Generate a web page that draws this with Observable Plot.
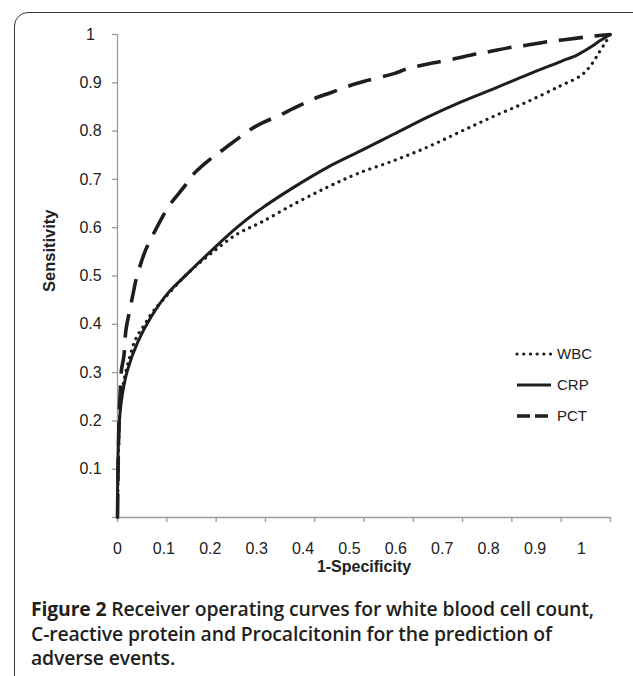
<!DOCTYPE html>
<html>
<head>
<meta charset="utf-8">
<script src="https://cdn.jsdelivr.net/npm/d3@7"></script>
<script src="https://cdn.jsdelivr.net/npm/@observablehq/plot@0.6"></script>
<style>
  html, body { margin: 0; padding: 0; background: #fff; }
  body { width: 633px; height: 676px; overflow: hidden; position: relative; font-family: "Liberation Sans", Arial, sans-serif; }
  #frame { position: absolute; left: 14px; top: 12px; width: 660px; height: 680px; border: 1.5px solid #3a3a3a; border-radius: 14px; box-sizing: border-box; }
  #chart { position: absolute; left: 0; top: 0; }
  #legend { position: absolute; left: 515px; top: 338px; font-size: 15px; color: #222; }
  #legend .row { display: flex; align-items: center; height: 31px; }
  #legend svg { margin-right: 4px; }
  #caption { position: absolute; left: 31px; top: 597px; width: 610px; font-family: "Open Sans", "Noto Sans", sans-serif; font-size: 19.4px; line-height: 24.5px; font-weight: 600; color: #231f20; letter-spacing: -0.15px; }
  #caption b { font-weight: 700; }
</style>
</head>
<body>
<div id="frame"></div>
<div id="chart"></div>
<div id="legend"></div>
<div id="caption"><b>Figure 2</b> Receiver operating curves for white blood cell count,<br>C-reactive protein and Procalcitonin for the prediction of<br>adverse events.</div>
<script>
// ---- data ----
const seriesNames = ["WBC", "CRP", "PCT"];

const wbcX = [0, 0.002, 0.004, 0.007, 0.013, 0.024, 0.037, 0.054, 0.071, 0.091, 0.142, 0.189, 0.243, 0.291, 0.358, 0.426, 0.487, 0.561, 0.629, 0.696, 0.764, 0.832, 0.899, 0.94, 0.96, 0.977, 0.99, 1];
const wbcY = [0, 0.12, 0.2, 0.236, 0.284, 0.329, 0.37, 0.398, 0.425, 0.449, 0.505, 0.546, 0.587, 0.611, 0.649, 0.684, 0.712, 0.739, 0.767, 0.799, 0.831, 0.861, 0.894, 0.915, 0.936, 0.963, 0.984, 1];

const crpX = [0, 0.001, 0.005, 0.01, 0.02, 0.041, 0.068, 0.101, 0.142, 0.189, 0.243, 0.291, 0.358, 0.426, 0.493, 0.561, 0.629, 0.696, 0.764, 0.832, 0.899, 0.933, 0.96, 0.98, 1];
const crpY = [0, 0.125, 0.215, 0.256, 0.304, 0.363, 0.415, 0.463, 0.505, 0.551, 0.601, 0.639, 0.684, 0.725, 0.759, 0.794, 0.829, 0.86, 0.888, 0.917, 0.944, 0.958, 0.974, 0.988, 1];

const pctX = [0, 0.003, 0.006, 0.008, 0.013, 0.017, 0.025, 0.033, 0.037, 0.054, 0.066, 0.091, 0.105, 0.137, 0.155, 0.193, 0.216, 0.257, 0.284, 0.331, 0.357, 0.406, 0.431, 0.483, 0.507, 0.561, 0.585, 0.639, 0.666, 0.72, 0.747, 0.801, 0.825, 0.879, 0.906, 0.96, 1];
const pctY = [0, 0.2, 0.27, 0.305, 0.335, 0.387, 0.43, 0.47, 0.49, 0.546, 0.573, 0.622, 0.646, 0.687, 0.712, 0.746, 0.763, 0.794, 0.812, 0.834, 0.847, 0.87, 0.879, 0.898, 0.905, 0.919, 0.928, 0.941, 0.946, 0.958, 0.963, 0.974, 0.977, 0.986, 0.989, 0.996, 1];

const xTickValues = [0, 0.1, 0.2, 0.3, 0.4, 0.5, 0.6, 0.7, 0.8, 0.9, 1];
const xTickLabels = ["0", "0.1", "0.2", "0.3", "0.4", "0.5", "0.6", "0.7", "0.8", "0.9", "1"];
const yTickValues = [0, 0.1, 0.2, 0.3, 0.4, 0.5, 0.6, 0.7, 0.8, 0.9, 1];
const yLabelValues = [0.1, 0.2, 0.3, 0.4, 0.5, 0.6, 0.7, 0.8, 0.9, 1];
const yTickLabels = ["0.1", "0.2", "0.3", "0.4", "0.5", "0.6", "0.7", "0.8", "0.9", "1"];

const xTitle = "1-Specificity";
const yTitle = "Sensitivity";

// ---- build tables ----
const toRows = (xs, ys) => xs.map((x, i) => ({x, y: ys[i]}));
const wbc = toRows(wbcX, wbcY);
const crp = toRows(crpX, crpY);
const pct = toRows(pctX, pctY);

// Excel-style: category labels are spread slightly narrower than the tick marks
const labelSpread = 0.941;
const xLabelRows = xTickLabels.map((t, i) => ({x: (i / (xTickLabels.length - 1)) * labelSpread, t}));
const yLabelRows = yTickLabels.map((t, i) => ({y: yLabelValues[i], t}));

const axisColor = "#9a9a9a";
const inkColor = "#1e1e1e";
const styles = {
  WBC: {strokeWidth: 3.2, strokeDasharray: "0.1 6.6", strokeLinecap: "round"},
  CRP: {strokeWidth: 3, strokeDasharray: null, strokeLinecap: "butt"},
  PCT: {strokeWidth: 3.6, strokeDasharray: "24 12", strokeLinecap: "butt"}
};
const fs = 16;

const chart = Plot.plot({
  width: 633,
  height: 585,
  marginTop: 34,
  marginRight: 23,
  marginBottom: 68,
  marginLeft: 117,
  x: {domain: [0, 1], axis: null},
  y: {domain: [0, 1], axis: null},
  style: {fontFamily: "'Liberation Sans', Arial, sans-serif", fontSize: "16px", color: "#222", background: "transparent"},
  marks: [
    Plot.axisY({ticks: yTickValues, tickSize: 5, tickFormat: () => "", label: null, stroke: axisColor, strokeWidth: 1.3}),
    Plot.axisX({ticks: xTickValues, tickSize: 5, tickFormat: () => "", label: null, stroke: axisColor, strokeWidth: 1.3}),
    Plot.ruleX([0], {stroke: axisColor, strokeWidth: 1.3}),
    Plot.ruleY([0], {stroke: axisColor, strokeWidth: 1.3}),
    Plot.text(yLabelRows, {x: 0, y: "y", text: "t", dx: -27, textAnchor: "middle", fill: "#222", fontSize: fs}),
    Plot.text(xLabelRows, {x: "x", y: 0, text: "t", dy: 31, textAnchor: "middle", fill: "#222", fontSize: fs}),
    Plot.text([xTitle], {frameAnchor: "bottom", dy: 54, fontWeight: "bold", fontSize: fs, fill: "#222"}),
    Plot.text([yTitle], {frameAnchor: "left", dx: -68, dy: 16, rotate: -90, fontWeight: "bold", fontSize: 16.5, fill: "#222"}),
    Plot.line(wbc, {x: "x", y: "y", stroke: inkColor, curve: "catmull-rom", ...styles.WBC}),
    Plot.line(crp, {x: "x", y: "y", stroke: inkColor, curve: "catmull-rom", ...styles.CRP}),
    Plot.line(pct, {x: "x", y: "y", stroke: inkColor, curve: "catmull-rom", ...styles.PCT})
  ]
});
document.getElementById("chart").appendChild(chart);

// ---- legend ----
const legend = document.getElementById("legend");
for (const name of seriesNames) {
  const s = styles[name];
  const row = document.createElement("div");
  row.className = "row";
  row.innerHTML = `<svg width="38" height="10"><line x1="2" y1="5" x2="36" y2="5" stroke="${inkColor}" stroke-width="${s.strokeWidth}" ${s.strokeDasharray ? `stroke-dasharray="${name === "PCT" ? "13 5" : s.strokeDasharray}"` : ""} stroke-linecap="${s.strokeLinecap}"/></svg><span>${name}</span>`;
  legend.appendChild(row);
}
</script>
</body>
</html>
